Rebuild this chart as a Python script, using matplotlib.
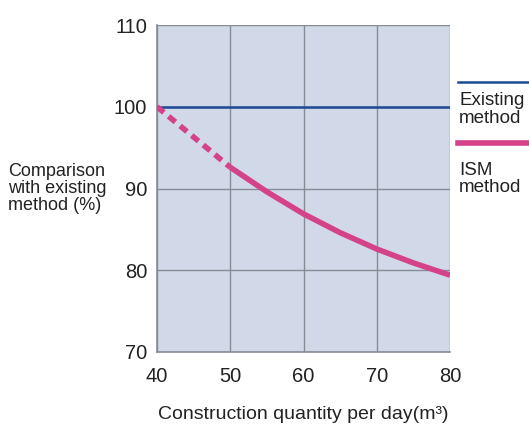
import matplotlib.pyplot as plt
import numpy as np

# data
x_ticks = [40, 50, 60, 70, 80]
y_ticks = [70, 80, 90, 100, 110]

existing_x = [40, 80]
existing_y = [100, 100]

# ISM: dashed part (extrapolated) and solid part
ism_dash_x = [40, 45, 50]
ism_dash_y = [100, 96.3, 92.6]
ism_x = [50, 55, 60, 65, 70, 75, 80]
ism_y = [92.6, 89.6, 86.9, 84.6, 82.6, 80.9, 79.4]

BLUE = "#1d4a94"
PINK = "#d4428a"
BG = "#d1d9e9"
GRID = "#878c94"
FONT = ["Liberation Sans", "DejaVu Sans"]

fig = plt.figure(figsize=(5.29, 4.25), dpi=100)
ax = fig.add_axes([0.2968, 0.1718, 0.5539, 0.7692])
ax.set_facecolor(BG)

ax.plot(existing_x, existing_y, color=BLUE, lw=1.8, solid_capstyle="butt", zorder=3)
ax.plot(ism_dash_x, ism_dash_y, color=PINK, lw=4, ls=(0, (1.6, 1.1)), zorder=3)
ax.plot(ism_x, ism_y, color=PINK, lw=4, solid_capstyle="butt", zorder=3)

ax.set_xlim(40, 80)
ax.set_ylim(70, 110)
ax.set_xticks(x_ticks)
ax.set_yticks(y_ticks)
ax.grid(True, color=GRID, lw=1.0)
ax.set_axisbelow(True)
ax.tick_params(length=0, labelsize=14.5)
ax.tick_params(axis="x", pad=11)
ax.tick_params(axis="y", pad=7)
for lab in ax.get_xticklabels() + ax.get_yticklabels():
    lab.set_family(FONT)
    lab.set_color("#222222")
for side in ["left", "bottom"]:
    ax.spines[side].set_color(GRID)
    ax.spines[side].set_linewidth(1.2)
for side in ["top", "right"]:
    ax.spines[side].set_visible(False)

ax.set_xlabel("Construction quantity per day(m³)", fontsize=14,
              family=FONT, color="#222222", labelpad=14)

fig.text(0.015, 0.557, "Comparison\nwith existing\nmethod (%)", fontsize=13,
         family=FONT, color="#222222", ha="left", va="center",
         linespacing=1.0)

# legend drawn at the right edge
fig.add_artist(plt.Line2D([0.866, 1.0], [0.807, 0.807], color=BLUE, lw=1.8))
fig.text(0.868, 0.743, "Existing\nmethod", fontsize=13.5, family=FONT,
         color="#222222", ha="left", va="center", linespacing=1.05)
fig.add_artist(plt.Line2D([0.866, 1.0], [0.664, 0.664], color=PINK, lw=4))
fig.text(0.868, 0.579, "ISM\nmethod", fontsize=13.5, family=FONT,
         color="#222222", ha="left", va="center", linespacing=1.05)

fig.savefig("out.png", dpi=100, facecolor="white")
